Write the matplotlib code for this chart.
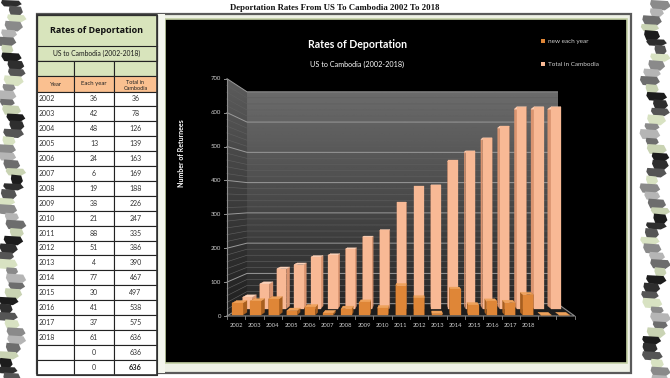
import matplotlib
matplotlib.use("Agg")
import matplotlib.pyplot as plt
import numpy as np
from matplotlib.patches import Polygon, Rectangle

# ---------------- data ----------------
years = ["2002", "2003", "2004", "2005", "2006", "2007", "2008", "2009", "2010",
         "2011", "2012", "2013", "2014", "2015", "2016", "2017", "2018", "", ""]
new_each_year = [36, 42, 48, 13, 24, 6, 19, 38, 21, 88, 51, 4, 77, 30, 41, 37, 61, 0, 0]
total_in_cambodia = [36, 78, 126, 139, 163, 169, 188, 226, 247, 335, 386, 390,
                     467, 497, 538, 575, 636, 636, 636]
y_ticks = [0, 100, 200, 300, 400, 500, 600, 700]
series_names = ["new each year", "Total in Cambodia"]
page_title = "Deportation Rates From US To Cambodia 2002 To 2018"
chart_title = "Rates of Deportation"
chart_subtitle = "US to Cambodia (2002-2018)"
y_label = "Number of Returnees"
table_header = ["Year", "Each year", "Total in\nCambodia"]

# ---------------- figure ----------------
W, H = 670, 378
fig = plt.figure(figsize=(6.7, 3.78), dpi=100)
fig.patch.set_facecolor("white")
ax = fig.add_axes([0, 0, 1, 1])
ax.set_xlim(0, W)
ax.set_ylim(H, 0)
ax.axis("off")

SANS = ["Lato", "DejaVu Sans"]

# page title
ax.text(335, 8.5, page_title, ha="center", va="center", fontsize=6.3,
        fontweight="bold", family=["Liberation Serif", "DejaVu Serif"], color="#111111")

# torn paper edges (decorative)
pal = ["#2e2e2e", "#8a8a8a", "#c9d3b3", "#555555", "#b5b5b5", "#1c1c1c", "#d8e2c2", "#6d6d6d"]
for side, (xa, xb) in enumerate([(2, 24), (646, 668)]):
    yy = 0
    k = 0
    while yy < H:
        h = 7 + 4 * abs(np.sin(1.7 * k + side))
        w = (xb - xa)
        xm = xa + w * (0.45 + 0.25 * np.sin(0.9 * k + 2 * side))
        hw = w * (0.25 + 0.2 * abs(np.cos(1.3 * k)))
        pts = [(xm - hw, yy), (xm + hw * 0.7, yy + h * 0.1), (xm + hw, yy + h * 0.6),
               (xm + hw * 0.4, yy + h), (xm - hw * 0.8, yy + h * 0.9), (xm - hw * 1.1, yy + h * 0.4)]
        ax.add_patch(Polygon(pts, closed=True, facecolor=pal[(3 * k + side) % len(pal)],
                             edgecolor="none", zorder=1))
        yy += h * 0.8
        k += 1

# outer frame
ax.add_patch(Rectangle((37, 14), 594, 359, facecolor="#eef1e6", edgecolor="#5a5a5a",
                       lw=1.6, zorder=2))
# chart area (black)
ax.add_patch(Rectangle((165, 19), 462, 344, facecolor="black", edgecolor="#c3d0a4",
                       lw=1.2, zorder=3))

# ---------------- pseudo-3D projection ----------------
VPX, VPY = 414.0, 201.0
X0, DXC = 227.0, 18.3     # front plane: x of category edge
Y0, DYV = 316.0, 0.339    # front plane: y of value
K = 0.12
NC = len(years)
VMAX = y_ticks[-1]


def proj(u, v, d):
    s = 1.0 / (1.0 + K * d)
    xf = X0 + DXC * u
    yf = Y0 - DYV * v
    return (VPX + (xf - VPX) * s, VPY + (yf - VPY) * s)


Z = 4
# back wall with gradient
bl = proj(0, 0, 1); tr = proj(NC, VMAX, 1)
grad = np.linspace(0.42, 0.16, 100).reshape(-1, 1)
ax.imshow(grad, extent=[bl[0], tr[0], bl[1], tr[1]], origin="upper", cmap="gray",
          vmin=0, vmax=1, aspect="auto", zorder=Z, interpolation="bilinear")
# side wall with gradient (clipped)
side_poly = Polygon([proj(0, 0, 0), proj(0, 0, 1), proj(0, VMAX, 1), proj(0, VMAX, 0)],
                    closed=True, facecolor="none", edgecolor="none", zorder=Z)
ax.add_patch(side_poly)
p0 = proj(0, VMAX, 0); p1 = proj(0, 0, 0)
im = ax.imshow(np.linspace(0.36, 0.12, 100).reshape(-1, 1),
               extent=[X0, bl[0], p1[1], p0[1]], origin="upper", cmap="gray",
               vmin=0, vmax=1, aspect="auto", zorder=Z, interpolation="bilinear")
im.set_clip_path(side_poly)
# floor
ax.add_patch(Polygon([proj(0, 0, 0), proj(NC, 0, 0), proj(NC, 0, 1), proj(0, 0, 1)],
                     closed=True, facecolor="#1d1d1d", edgecolor="none", zorder=Z + 0.1))
# gridlines (minor every 20, major every 100)
for v in range(0, VMAX + 1, 20):
    major = v % 100 == 0
    c = "#9a9a9a" if major else "#5e5e5e"
    lw = 0.7 if major else 0.45
    a = proj(0, v, 0); b = proj(0, v, 1); e = proj(NC, v, 1)
    ax.plot([a[0], b[0], e[0]], [a[1], b[1], e[1]], color=c, lw=lw, zorder=Z + 0.2)
# axes lines
a = proj(0, 0, 0); b = proj(0, VMAX, 0)
ax.plot([a[0], b[0]], [a[1], b[1]], color="#8c8c8c", lw=0.8, zorder=Z + 0.3)
e = proj(NC, 0, 0); f = proj(NC, 0, 1)
ax.plot([a[0], e[0], f[0]], [a[1], e[1], f[1]], color="#8c8c8c", lw=0.8, zorder=Z + 0.3)
for v in y_ticks:
    p = proj(0, v, 0)
    ax.plot([p[0] - 3, p[0]], [p[1], p[1]], color="#8c8c8c", lw=0.7, zorder=Z + 0.3)
    ax.text(p[0] - 6, p[1], str(v), ha="right", va="center", fontsize=4.3,
            color="#d0d0d0", family=SANS, zorder=Z + 0.3)
for i in range(NC + 1):
    p = proj(i, 0, 0)
    ax.plot([p[0], p[0]], [p[1], p[1] + 3], color="#8c8c8c", lw=0.6, zorder=Z + 0.3)
for i, lab in enumerate(years):
    p = proj(i + 0.5, 0, 0)
    ax.text(p[0], p[1] + 9.5, lab, ha="center", va="center", fontsize=4.2,
            color="#d0d0d0", family=SANS, zorder=Z + 0.3)


def draw_bar(i, v, d0, d1, wf, cfront, cside, ctop, z):
    u0 = i + (1 - wf) / 2
    u1 = i + (1 + wf) / 2
    top = [proj(u0, v, d0), proj(u1, v, d0), proj(u1, v, d1), proj(u0, v, d1)]
    sr = [proj(u1, 0, d0), proj(u1, 0, d1), proj(u1, v, d1), proj(u1, v, d0)]
    sl = [proj(u0, 0, d0), proj(u0, 0, d1), proj(u0, v, d1), proj(u0, v, d0)]
    front = [proj(u0, 0, d0), proj(u1, 0, d0), proj(u1, v, d0), proj(u0, v, d0)]
    for poly, c in [(sl, cside), (sr, cside), (top, ctop), (front, cfront)]:
        ax.add_patch(Polygon(poly, closed=True, facecolor=c, edgecolor=c, lw=0.2, zorder=z))


for i, v in enumerate(total_in_cambodia):
    draw_bar(i, v, 0.56, 0.80, 0.55, "#f8b995", "#d99470", "#fcd3bb", Z + 1)
for i, v in enumerate(new_each_year):
    draw_bar(i, v, 0.06, 0.28, 0.57, "#df8637", "#a85f1f", "#eea25c", Z + 2)

# titles
ax.text(358, 44, chart_title, ha="center", va="center", fontsize=7.6, fontweight="bold",
        color="white", family=SANS, zorder=Z + 3)
ax.text(357, 64, chart_subtitle, ha="center", va="center", fontsize=5.2,
        color="white", family=SANS, zorder=Z + 3)
ax.text(182, 153, y_label, ha="center", va="center", rotation=90, fontsize=5.0,
        fontweight="bold", color="white", family=SANS, zorder=Z + 3)
# legend
for (yy, name, col) in [(41, series_names[0], "#df8637"), (64, series_names[1], "#f8b995")]:
    ax.add_patch(Rectangle((541, yy - 2.2), 4.4, 4.4, facecolor=col, edgecolor="none",
                           zorder=Z + 3))
    ax.text(548, yy, name, ha="left", va="center", fontsize=4.6, color="#cfcfcf",
            family=SANS, zorder=Z + 3)

# ---------------- table ----------------
TZ = 10
cx = [37, 74, 114, 157]
green = "#d8e4bc"
orange = "#fac090"
lc = "#222222"
ax.add_patch(Rectangle((157, 14), 8, 359, facecolor="#f4f6ee", edgecolor="none", zorder=TZ - 1))
ax.add_patch(Rectangle((cx[0], 15), cx[3] - cx[0], 46, facecolor=green, edgecolor=lc,
                       lw=0.9, zorder=TZ))
ax.plot([cx[0], cx[3]], [46, 46], color=lc, lw=0.8, zorder=TZ + 0.1)
ax.text((cx[0] + cx[3]) / 2, 30.5, chart_title, ha="center", va="center", fontsize=6.5,
        fontweight="bold", color="#111111", family=["Open Sans", "DejaVu Sans"],
        zorder=TZ + 1)
ax.text((cx[0] + cx[3]) / 2, 53.5, chart_subtitle, ha="center", va="center", fontsize=4.9,
        color="#1a1a1a", family=SANS, zorder=TZ + 1)
for j in range(3):
    ax.add_patch(Rectangle((cx[j], 61), cx[j + 1] - cx[j], 15, facecolor=green,
                           edgecolor=lc, lw=0.8, zorder=TZ))
    ax.add_patch(Rectangle((cx[j], 76), cx[j + 1] - cx[j], 15.5, facecolor=orange,
                           edgecolor=lc, lw=0.8, zorder=TZ))
ax.text((cx[0] + cx[1]) / 2, 84, table_header[0], ha="center", va="center", fontsize=4.3,
        color="#222222", family=SANS, zorder=TZ + 1)
ax.text((cx[1] + cx[2]) / 2, 84, table_header[1], ha="center", va="center", fontsize=4.3,
        color="#222222", family=SANS, zorder=TZ + 1)
t = ax.text((cx[2] + cx[3]) / 2, 85.5, table_header[2], ha="center", va="center",
            fontsize=4.0, color="#222222", family=SANS, zorder=TZ + 1, linespacing=1.05)
t.set_clip_path(Rectangle((cx[2], 76), cx[3] - cx[2], 15.5, transform=ax.transData))

RH = 14.9
ry0 = 91.5
for r, (yr, n, tot) in enumerate(zip(years, new_each_year, total_in_cambodia)):
    y0 = ry0 + r * RH
    for j in range(3):
        ax.add_patch(Rectangle((cx[j], y0), cx[j + 1] - cx[j], RH, facecolor="white",
                               edgecolor=lc, lw=0.8, zorder=TZ))
    yc = y0 + RH / 2
    ax.text(cx[0] + 1.5, yc, yr, ha="left", va="center", fontsize=5.0, color="#333333",
            family=SANS, zorder=TZ + 1)
    ax.text((cx[1] + cx[2]) / 2, yc, str(n), ha="center", va="center", fontsize=5.0,
            color="#333333", family=SANS, zorder=TZ + 1)
    last = r == len(years) - 1
    ax.text((cx[2] + cx[3]) / 2, yc, str(tot), ha="center", va="center",
            fontsize=5.3 if last else 5.0, fontweight="bold" if last else "normal",
            color="#222222" if last else "#333333", family=SANS, zorder=TZ + 1)
ax.add_patch(Rectangle((cx[0], 15), cx[3] - cx[0], ry0 + len(years) * RH - 15,
                       facecolor="none", edgecolor="#333333", lw=1.2, zorder=TZ + 2))

fig.savefig("out.png", dpi=100, facecolor="white")
